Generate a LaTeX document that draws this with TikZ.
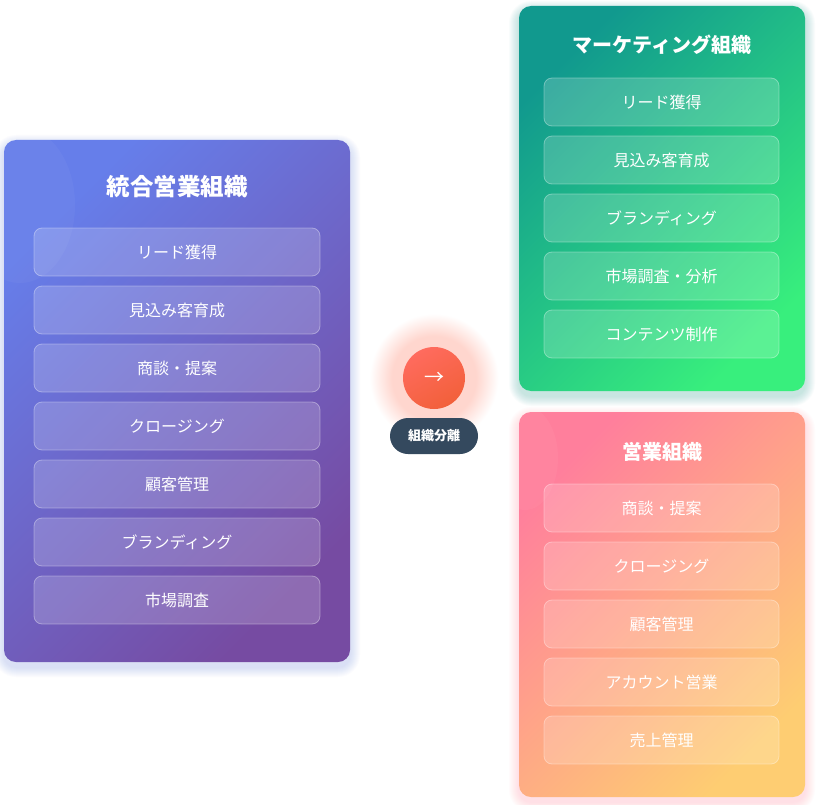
\documentclass[tikz,border=0pt]{standalone}
\usepackage{fontspec}
\setmainfont{Noto Sans CJK JP}
\usepackage{tikz}
\usepackage{xcolor}
\usetikzlibrary{positioning}

\definecolor{unifiedA}{HTML}{667EEA}
\definecolor{unifiedB}{HTML}{764BA2}
\definecolor{marketA}{HTML}{11998E}
\definecolor{marketB}{HTML}{38EF7D}
\definecolor{salesA}{HTML}{FF7F9C}
\definecolor{salesM}{HTML}{FFA08A}
\definecolor{salesB}{HTML}{FECD72}
\definecolor{splitA}{HTML}{FF6B5E}
\definecolor{splitB}{HTML}{F2603A}
\definecolor{glowred}{HTML}{FFD6CE}
\definecolor{pill}{HTML}{34495E}

\pgfdeclareradialshading{redglow}{\pgfpoint{0bp}{0bp}}{color(0bp)=(glowred); color(15bp)=(glowred); color(23bp)=(white); color(50bp)=(white)}

% soft halo round a panel: colour, x1, y1, x2, y2
\newcommand\panelhalo[5]{%
  \foreach \g in {1,...,10}
    \fill[#1, opacity=0.022, rounded corners={12pt+\g pt}]
      (#2-\g,#3-\g+5) rectangle (#4+\g,#5+\g+5);}

\tikzset{
  panel/.style={rounded corners=12pt, inner sep=0pt, outer sep=0pt, minimum width=286pt, minimum height=385pt},
  title/.style={text=white, font=\bfseries\fontsize{20}{24}\selectfont},
  item/.style={draw=white, draw opacity=0.35, fill=white, fill opacity=0.18, text opacity=1,
    text=white, rounded corners=8pt, minimum height=48pt, line width=0.8pt, inner sep=0pt,
    outer sep=0pt, font=\fontsize{16}{20}\selectfont},
  litem/.style={item, minimum width=286pt},
  ritem/.style={item, minimum width=235pt},
}

\begin{document}
\begin{tikzpicture}[x=1pt, y=-1pt, node distance=10pt]
		\fill[white] (0,0) rectangle (816,805);
		\useasboundingbox (0,0) rectangle (816,805);
		% glow of the split button
		\coordinate (a) at (434,378);
		\shade[shading=redglow] (a) circle (70);
		% halos
		\panelhalo{unifiedA}{4}{140}{350}{662}
		\panelhalo{marketA}{519}{6}{805}{391}
		\panelhalo{salesA}{519}{412}{805}{797}
		% panels
		\node[panel, minimum width=346pt, minimum height=522pt,
			top color=unifiedA, bottom color=unifiedB, shading angle=45] (L) at (177,401) {};
		\node[panel, top color=marketA, bottom color=marketB, shading angle=45] (G) at (662,198.5) {};
		\node[panel, top color=salesA, middle color=salesM, bottom color=salesB, shading angle=45] (P) at (662,604.5) {};
		% decorative blobs
		\begin{scope}
		\clip[rounded corners=12pt] (L.north west) rectangle (L.south east);
		\fill[white, opacity=0.035] (20,205) ellipse [x radius=55, y radius=78];
		\end{scope}
		\begin{scope}
		\clip[rounded corners=12pt] (P.north west) rectangle (P.south east);
		\fill[white, opacity=0.04] (525,458) ellipse [x radius=33, y radius=52];
		\end{scope}
		% unified organisation
		\node[title, font=\bfseries\fontsize{23.5}{28}\selectfont] (LT) at (177,187) {統合営業組織};
		\node[litem] (L1) at (177,252) {リード獲得};
		\node[litem] (L2) [below=of L1] {見込み客育成};
		\node[litem] (L3) [below=of L2] {商談・提案};
		\node[litem] (L4) [below=of L3] {クロージング};
		\node[litem] (L5) [below=of L4] {顧客管理};
		\node[litem] (L6) [below=of L5] {ブランディング};
		\node[litem] (L7) [below=of L6] {市場調査};
		% marketing organisation
		\node[title] (GT) at (662,45) {マーケティング組織};
		\node[ritem] (G1) at (661.5,102) {リード獲得};
		\node[ritem] (G2) [below=of G1] {見込み客育成};
		\node[ritem] (G3) [below=of G2] {ブランディング};
		\node[ritem] (G4) [below=of G3] {市場調査・分析};
		\node[ritem] (G5) [below=of G4] {コンテンツ制作};
		% sales organisation
		\node[title] (PT) at (662,452) {営業組織};
		\node[ritem] (P1) at (661.5,508) {商談・提案};
		\node[ritem] (P2) [below=of P1] {クロージング};
		\node[ritem] (P3) [below=of P2] {顧客管理};
		\node[ritem] (P4) [below=of P3] {アカウント営業};
		\node[ritem] (P5) [below=of P4] {売上管理};
		% split
		\node[circle, minimum size=62pt, inner sep=0pt, outer sep=0pt, text=white,
			left color=splitA, right color=splitB, shading angle=30,
			font=\fontsize{20}{24}\selectfont] (A) at (a) {→};
		\node[fill=pill, text=white, rounded corners=18pt, minimum width=88pt, minimum height=36pt,
			inner sep=0pt, outer sep=0pt, font=\bfseries\fontsize{13}{16}\selectfont] (S) [below=9pt of A] {組織分離};
		\end{tikzpicture}
\end{document}
